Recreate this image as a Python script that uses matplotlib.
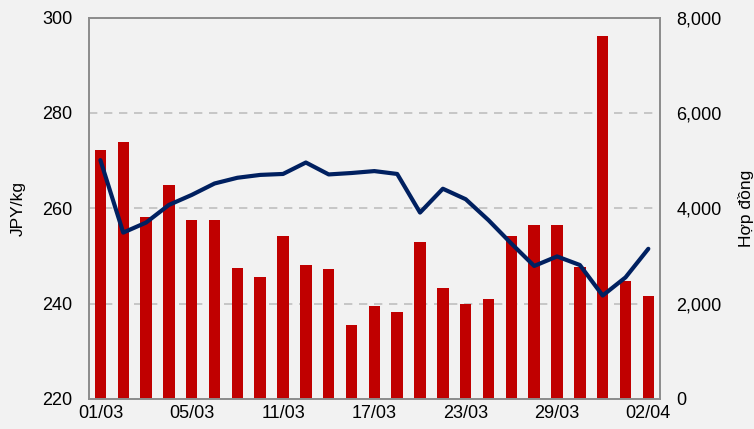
import matplotlib.pyplot as plt
import matplotlib.ticker as mticker

plt.rcParams['font.family'] = ['Liberation Sans', 'DejaVu Sans']

dates = ['01/03', '02/03', '03/03', '04/03', '05/03', '08/03', '09/03', '10/03',
         '11/03', '12/03', '15/03', '16/03', '17/03', '18/03', '19/03', '22/03',
         '23/03', '24/03', '25/03', '26/03', '29/03', '30/03', '31/03', '01/04',
         '02/04']
# khoi luong hop dong (truc phai)
volume = [5226, 5387, 3822, 4479, 3752, 3752, 2739, 2550, 3417, 2816, 2718, 1551,
          1956, 1824, 3284, 2334, 1998, 2089, 3417, 3647, 3647, 2774, 7609, 2473,
          2159]
# gia JPY/kg (truc trai)
price = [270.1, 254.9, 257.0, 260.7, 262.8, 265.2, 266.4, 267.0, 267.2, 269.6,
         267.1, 267.4, 267.8, 267.2, 259.1, 264.1, 261.9, 257.5, 252.6, 247.9,
         249.9, 248.1, 241.7, 245.5, 251.5]

bg = '#F2F2F2'
fig = plt.figure(figsize=(7.54, 4.29), dpi=100, facecolor=bg)
ax = fig.add_axes([0.118, 0.07, 0.757, 0.889])
ax2 = ax.twinx()

x = list(range(len(dates)))

ax2.set_facecolor(bg)
ax2.bar(x, volume, width=0.5, color='#C00000', zorder=2)
ax2.set_ylim(0, 8000)
ax2.set_yticks([0, 2000, 4000, 6000, 8000])
ax2.yaxis.set_major_formatter(mticker.FuncFormatter(lambda v, p: f'{int(v):,}'))
ax2.grid(axis='y', color='#BFBFBF', linestyle=(0, (5, 4)), linewidth=1.2, zorder=0)
ax2.set_axisbelow(True)
ax2.set_ylabel('Hợp đồng', fontsize=12.5, labelpad=12)

ax.set_zorder(ax2.get_zorder() + 1)
ax.patch.set_visible(False)
ax.plot(x, price, color='#002060', linewidth=3.0, solid_capstyle='round',
        solid_joinstyle='round')
ax.set_ylim(220, 300)
ax.set_yticks([220, 240, 260, 280, 300])
ax.set_ylabel('JPY/kg', fontsize=12.5, labelpad=12)
ax.set_xlim(-0.5, len(dates) - 0.5)
ax.set_xticks(x[::4])
ax.set_xticklabels(dates[::4])

for a in (ax, ax2):
    for s in a.spines.values():
        s.set_color('#8C8C8C')
        s.set_linewidth(1.2)
    a.tick_params(axis='y', length=0, labelsize=13, pad=12)
    a.tick_params(axis='x', length=0, labelsize=13, pad=4)

fig.savefig('out.png', dpi=100, facecolor=bg)
